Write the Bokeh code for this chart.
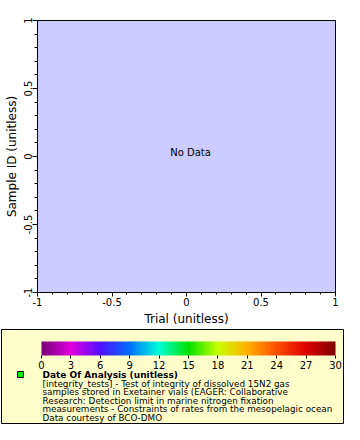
import numpy as np
from bokeh.plotting import figure
from bokeh.layouts import column
from bokeh.models import Range1d, FixedTicker, Label, ColorBar, LinearColorMapper
from bokeh.embed import file_html
from bokeh.resources import INLINE

FONT = "DejaVu Sans"

# ---- data / labels ----
x_ticks = [-1, -0.5, 0, 0.5, 1]
x_tick_labels = ["-1", "-0.5", "0", "0.5", "1"]
y_ticks = [-1, -0.5, 0, 0.5, 1]
y_tick_labels = ["-1", "-0.5", "0", "0.5", "1"]
minor_ticks = [-1, -0.9, -0.8, -0.7, -0.6, -0.5, -0.4, -0.3, -0.2, -0.1, 0,
               0.1, 0.2, 0.3, 0.4, 0.5, 0.6, 0.7, 0.8, 0.9, 1]
x_label = "Trial (unitless)"
y_label = "Sample ID (unitless)"
no_data_text = "No Data"

cb_low, cb_high = 0, 30
cb_ticks = [0, 3, 6, 9, 12, 15, 18, 21, 24, 27, 30]
palette_stops = [0, 3, 6, 9, 12, 15, 18, 21, 24, 27, 30]
palette_colors = ["#7a007a", "#e000e0", "#5010ff", "#0070ff", "#00ffd8",
                  "#00e000", "#c8ff00", "#ffb000", "#ff5000", "#e00000", "#800000"]

legend_title = "Date Of Analysis (unitless)"
legend_lines = [
    "[integrity_tests] - Test of integrity of dissolved 15N2 gas",
    "samples stored in Exetainer vials (EAGER:  Collaborative",
    "Research:  Detection limit in marine nitrogen fixation",
    "measurements - Constraints of rates from the mesopelagic ocean",
    "Data courtesy of BCO-DMO",
]


def hex_to_rgb(h):
    return [int(h[i:i + 2], 16) for i in (1, 3, 5)]


stops = np.array(palette_stops, dtype=float)
rgbs = np.array([hex_to_rgb(c) for c in palette_colors], dtype=float)
vals = np.linspace(cb_low, cb_high, 256)
palette = []
for v in vals:
    r = np.interp(v, stops, rgbs[:, 0])
    g = np.interp(v, stops, rgbs[:, 1])
    b = np.interp(v, stops, rgbs[:, 2])
    palette.append("#%02x%02x%02x" % (int(round(r)), int(round(g)), int(round(b))))

# ---- main plot ----
p = figure(width=344, height=328, x_range=Range1d(-1, 1), y_range=Range1d(-1, 1),
           output_backend="svg", toolbar_location=None,
           min_border_left=37, min_border_right=9, min_border_top=20, min_border_bottom=35,
           background_fill_color="#ccccff", border_fill_color="white",
           outline_line_color="black", outline_line_width=1)
p.grid.visible = False

for ax, ticks, labels, lab in ((p.xaxis[0], x_ticks, x_tick_labels, x_label),
                               (p.yaxis[0], y_ticks, y_tick_labels, y_label)):
    ax.ticker = FixedTicker(ticks=ticks, minor_ticks=minor_ticks)
    ax.major_label_overrides = {t: l for t, l in zip(ticks, labels)}
    ax.axis_label = lab
    ax.axis_label_text_font = FONT
    ax.axis_label_text_font_size = "12px"
    ax.axis_label_text_font_style = "normal"
    ax.axis_label_text_color = "black"
    ax.major_label_text_font = FONT
    ax.major_label_text_font_size = "10px"
    ax.major_label_text_color = "black"
    ax.axis_line_color = "black"
    ax.major_tick_line_color = "black"
    ax.minor_tick_line_color = "black"
    ax.major_tick_in = 0
    ax.minor_tick_in = 0

p.xaxis.major_tick_out = 4
p.xaxis.minor_tick_out = 2
p.xaxis.major_label_standoff = 1
p.xaxis.axis_label_standoff = 3
p.yaxis.major_tick_out = 5
p.yaxis.minor_tick_out = 3
p.yaxis.major_label_standoff = 1
p.yaxis.axis_label_standoff = 2
p.yaxis.major_label_orientation = "vertical"

p.add_layout(Label(x=0, y=0, text=no_data_text, text_align="center", text_baseline="middle",
                   x_offset=4, y_offset=4, text_font=FONT, text_font_size="10px",
                   text_color="black"))

# ---- legend panel ----
lg = figure(width=344, height=96, x_range=Range1d(0, 342), y_range=Range1d(94, 0),
            x_axis_location=None, y_axis_location=None,
            output_backend="svg", toolbar_location=None,
            min_border_left=1, min_border_right=1, min_border_top=1, min_border_bottom=1,
            background_fill_color="#ffffcc", border_fill_color="white",
            outline_line_color="black", outline_line_width=1)
lg.grid.visible = False

# keep each figure's own frame (do not align frames across the column)
for fig in (p, lg):
    try:
        fig.frame_align = False
    except Exception:
        pass

mapper = LinearColorMapper(palette=palette, low=cb_low, high=cb_high)
cb = ColorBar(color_mapper=mapper, orientation="horizontal", width=294, height=14,
              location=(40, 52), padding=0, margin=0,
              ticker=FixedTicker(ticks=cb_ticks),
              major_tick_out=3, major_tick_in=0, major_tick_line_color="black",
              minor_tick_line_color=None, label_standoff=2,
              major_label_text_font=FONT, major_label_text_font_size="10px",
              major_label_text_color="black",
              bar_line_color=None, border_line_color=None,
              background_fill_alpha=0)
lg.add_layout(cb, "center")

lg.scatter(x=[19], y=[45], marker="square", size=6, fill_color="#00ee00",
           line_color="black", line_width=1)
lg.add_layout(Label(x=41, y=45, text=legend_title, text_baseline="middle",
                    text_font=FONT, text_font_size="9px", text_font_style="bold",
                    text_color="black"))
for i, line in enumerate(legend_lines):
    lg.add_layout(Label(x=41, y=54 + 8.5 * i, text=line, text_baseline="middle",
                        text_font=FONT, text_font_size="8.8px", text_color="black"))

layout = column(p, lg, spacing=0)
open("out.html", "w").write(file_html(layout, INLINE))
